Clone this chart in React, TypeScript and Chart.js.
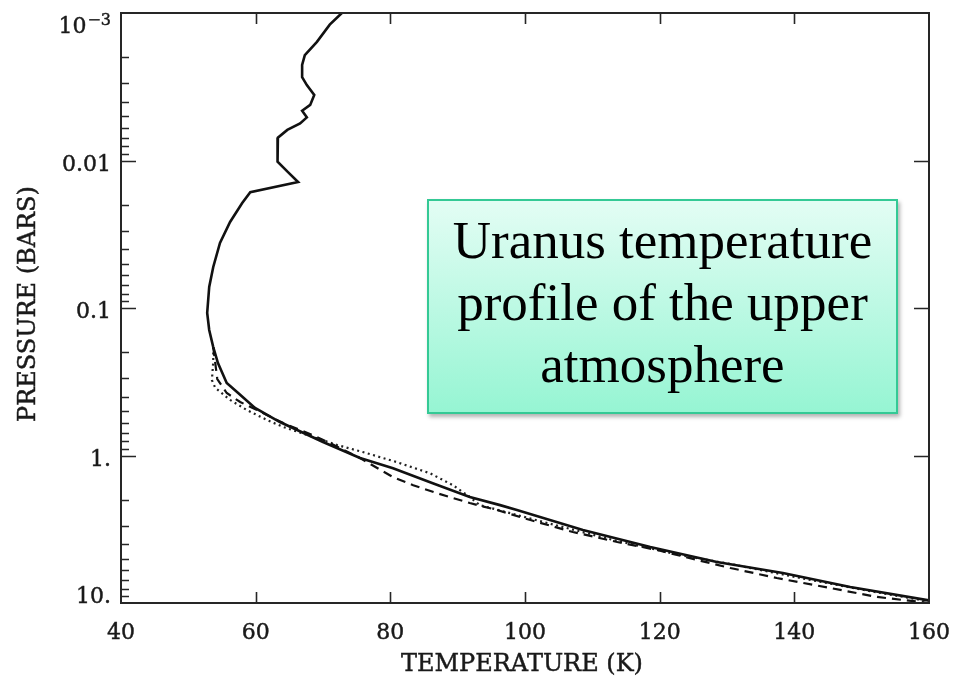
import React, { useEffect, useRef } from "react";
import { Chart, registerables } from "chart.js";

Chart.register(...registerables);

// Temperature (K) / pressure (bar) profiles
const solidT = [72.8, 71.0, 69.1, 67.3, 66.9, 66.9, 67.6, 68.7, 68.1, 66.9, 67.6, 66.6, 64.7, 63.3, 63.2, 63.3, 64.8, 66.3, 59.2, 58.0, 56.2, 54.7, 53.7, 53.1, 52.8, 53.1, 53.7, 54.4, 55.7, 57.4, 59.9, 63.6, 70.0, 75.5, 80.4, 86.3, 91.8, 96.3, 98.8, 108.6, 118.6, 128.5, 138.3, 148.3, 160];
const solidP = [0.001, 0.0012, 0.00157, 0.00193, 0.00225, 0.00272, 0.00308, 0.0036, 0.0042, 0.0046, 0.0051, 0.0056, 0.0062, 0.007, 0.0088, 0.0102, 0.012, 0.014, 0.0164, 0.0194, 0.0261, 0.0362, 0.0527, 0.072, 0.108, 0.141, 0.184, 0.236, 0.322, 0.377, 0.476, 0.593, 0.81, 1.04, 1.22, 1.54, 1.91, 2.17, 2.34, 3.2, 4.17, 5.27, 6.26, 7.8, 9.6];

const dashedT = [53.7, 54.3, 55.7, 57.7, 60.2, 64.1, 66.6, 69.1, 71.0, 75.5, 78.5, 80.4, 83.4, 86.9, 91.8, 95.8, 100.8, 107.1, 113.7, 119.6, 125.6, 130.5, 137.4, 145.3, 152.3, 160];
const dashedP = [0.184, 0.303, 0.377, 0.434, 0.492, 0.603, 0.672, 0.749, 0.823, 1.04, 1.25, 1.4, 1.59, 1.8, 2.1, 2.34, 2.74, 3.3, 3.86, 4.37, 5.11, 5.79, 6.77, 7.91, 9.1, 10.0];

const dottedT = [53.7, 53.7, 53.5, 54.0, 56.2, 58.7, 61.7, 64.1, 68.1, 72.1, 75.9, 81.0, 85.9, 89.3, 91.8, 93.3, 103.3, 113.1, 123.0, 130.5, 140.9, 151.2, 160];
const dottedP = [0.184, 0.232, 0.308, 0.348, 0.42, 0.492, 0.575, 0.641, 0.738, 0.849, 0.947, 1.11, 1.32, 1.59, 1.91, 2.17, 2.87, 3.74, 4.73, 5.44, 6.77, 8.3, 9.75];

const xTicks = [40, 60, 80, 100, 120, 140, 160];
const yMajor = [0.001, 0.01, 0.1, 1, 10];
const yLabels = ["10", "0.01", "0.1", "1.", "10."];
const xTitle = "TEMPERATURE (K)";
const yTitle = "PRESSURE (BARS)";
const noteLines = ["Uranus temperature", "profile of the upper", "atmosphere"];

const pts = (t: number[], p: number[]) => t.map((v, i) => ({ x: v, y: p[i] }));

const FONT = '"DejaVu Serif", serif';

function txt(ctx: CanvasRenderingContext2D, s: string, x: number, y: number) {
  ctx.fillText(s, x, y);
  ctx.strokeText(s, x, y);
}

const framePlugin = {
  id: "frameTicks",
  afterDraw(chart: any) {
    const { ctx, chartArea: a, scales } = chart;
    const x = scales.x;
    const y = scales.y;
    ctx.save();
    ctx.strokeStyle = "#262626";
    ctx.lineWidth = 2;
    ctx.strokeRect(a.left, a.top, a.right - a.left, a.bottom - a.top);
    ctx.lineWidth = 1.6;
    ctx.beginPath();
    // y major ticks (left and right, inward)
    for (let i = 1; i < yMajor.length - 1; i++) {
      const py = Math.round(y.getPixelForValue(yMajor[i])) + 0.5;
      ctx.moveTo(a.left, py); ctx.lineTo(a.left + 15, py);
      ctx.moveTo(a.right, py); ctx.lineTo(a.right - 15, py);
    }
    // y minor ticks on the left
    for (let i = 0; i < yMajor.length - 1; i++) {
      for (let m = 2; m <= 9; m++) {
        const py = Math.round(y.getPixelForValue(yMajor[i] * m)) + 0.5;
        ctx.moveTo(a.left, py); ctx.lineTo(a.left + 8, py);
      }
    }
    // x ticks top and bottom
    for (let i = 1; i < xTicks.length - 1; i++) {
      const px = Math.round(x.getPixelForValue(xTicks[i])) + 0.5;
      ctx.moveTo(px, a.bottom); ctx.lineTo(px, a.bottom - 11);
      ctx.moveTo(px, a.top); ctx.lineTo(px, a.top + 11);
    }
    ctx.stroke();

    // labels
    ctx.fillStyle = "#1a1a1a";
    ctx.strokeStyle = "#1a1a1a";
    ctx.lineWidth = 0.45;
    ctx.font = `22px ${FONT}`;
    ctx.textBaseline = "alphabetic";
    ctx.textAlign = "center";
    for (const v of xTicks) {
      txt(ctx, String(v), x.getPixelForValue(v), a.bottom + 36);
    }
    const rightX = a.left - 10;
    for (let i = 0; i < yMajor.length; i++) {
      const py = y.getPixelForValue(yMajor[i]);
      const base = Math.min(Math.max(py + 10, a.top + 20), a.bottom);
      ctx.textAlign = "right";
      if (i === 0) {
        ctx.font = `16px ${FONT}`;
        const sup = "\u22123";
        const w = ctx.measureText(sup).width;
        txt(ctx, sup, rightX, base - 8);
        ctx.font = `22px ${FONT}`;
        txt(ctx, yLabels[i], rightX - w - 1, base);
      } else {
        txt(ctx, yLabels[i], rightX, base);
      }
    }
    // titles
    ctx.textAlign = "center";
    ctx.font = `24px ${FONT}`;
    txt(ctx, xTitle, (a.left + a.right) / 2 - 3, 671);
    ctx.save();
    ctx.translate(29, (a.top + a.bottom) / 2 - 4);
    ctx.rotate(-Math.PI / 2);
    ctx.textBaseline = "middle";
    txt(ctx, yTitle, 0, 0);
    ctx.restore();
    ctx.restore();
  },
};

export default function App() {
  const ref = useRef<HTMLCanvasElement | null>(null);
  useEffect(() => {
    if (!ref.current) return;
    const chart = new Chart(ref.current, {
      type: "scatter",
      data: {
        datasets: [
          {
            label: "solid",
            data: pts(solidT, solidP),
            showLine: true,
            borderColor: "#111",
            borderWidth: 2.6,
            pointRadius: 0,
            tension: 0,
          },
          {
            label: "dashed",
            data: pts(dashedT, dashedP),
            showLine: true,
            borderColor: "#111",
            borderWidth: 2.2,
            borderDash: [9, 6],
            pointRadius: 0,
            tension: 0,
          },
          {
            label: "dotted",
            data: pts(dottedT, dottedP),
            showLine: true,
            borderColor: "#222",
            borderWidth: 2.2,
            borderDash: [2, 3.5],
            pointRadius: 0,
            tension: 0,
          },
        ],
      },
      options: {
        animation: false,
        responsive: false,
        layout: { padding: { left: 121, top: 13, right: 24, bottom: 73 } },
        plugins: { legend: { display: false }, tooltip: { enabled: false } },
        scales: {
          x: { type: "linear", min: 40, max: 160, display: false },
          y: { type: "logarithmic", min: 0.001, max: 10, reverse: true, display: false },
        },
      },
      plugins: [framePlugin],
    });
    return () => chart.destroy();
  }, []);

  return (
    <div style={{ position: "absolute", left: 0, top: 0, width: 953, height: 676, background: "#fff", overflow: "hidden" }}>
      <canvas ref={ref} width={953} height={676} style={{ display: "block" }} />
      <div
        style={{
          position: "absolute",
          left: 427,
          top: 199,
          width: 471,
          height: 215,
          boxSizing: "border-box",
          border: "2px solid #34c995",
          background: "linear-gradient(to bottom, #e3fdf4, #96f5d3)",
          boxShadow: "2px 3px 4px rgba(0,0,0,0.3)",
          fontFamily: '"Liberation Serif", "Times New Roman", serif',
          fontSize: 53,
          lineHeight: "62px",
          color: "#000",
          textAlign: "center",
          paddingTop: 8,
        }}
      >
        {noteLines.map((l, i) => (
          <div key={i} style={{ whiteSpace: "nowrap" }}>{l}</div>
        ))}
      </div>
    </div>
  );
}
